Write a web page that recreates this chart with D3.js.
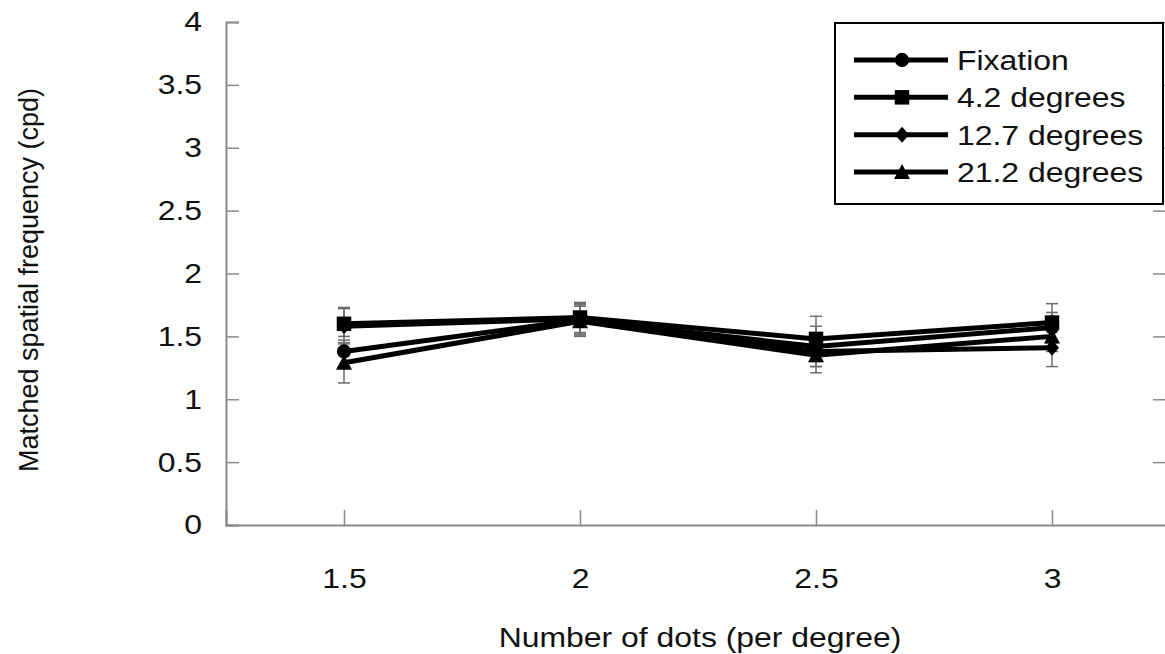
<!DOCTYPE html>
<html>
<head>
<meta charset="utf-8">
<script src="https://cdn.jsdelivr.net/npm/d3@7"></script>
<style>
  body { margin: 0; background: #fff; }
  text { font-family: Arial, "Liberation Sans", sans-serif; }
</style>
</head>
<body>
<script>
// chart values
var dotsPerDegree = [1.5, 2, 2.5, 3];
var seriesNames = ["Fixation", "4.2 degrees", "12.7 degrees", "21.2 degrees"];
var markerTypes = ["circle", "square", "diamond", "triangle"];

var fixation  = [1.38, 1.63, 1.42, 1.57];
var deg4_2    = [1.60, 1.65, 1.48, 1.61];
var deg12_7   = [1.58, 1.64, 1.38, 1.41];
var deg21_2   = [1.29, 1.62, 1.35, 1.50];

var errFixation = [0.12, 0.12, 0.16, 0.12];
var errDeg4_2   = [0.13, 0.12, 0.18, 0.15];
var errDeg12_7  = [0.14, 0.12, 0.12, 0.15];
var errDeg21_2  = [0.16, 0.12, 0.14, 0.12];

var yTicks = [0, 0.5, 1, 1.5, 2, 2.5, 3, 3.5, 4];
var xTicks = [1.5, 2, 2.5, 3];

var width = 1165,
    height = 654;

var svg = d3.select("body").append("svg")
    .attr("width", width)
    .attr("height", height);

var x = d3.scaleLinear()
    .domain([1.25, 3.25])
    .range([226, 1170]);

var y = d3.scaleLinear()
    .domain([0, 4])
    .range([525, 22]);

var series = [fixation, deg4_2, deg12_7, deg21_2].map(function(vals, i) {
  var errs = [errFixation, errDeg4_2, errDeg12_7, errDeg21_2][i];
  return {
    name: seriesNames[i],
    marker: markerTypes[i],
    points: vals.map(function(v, j) { return { x: dotsPerDegree[j], y: v, e: errs[j] }; })
  };
});

var axisColor = "#8a8a8a";
var fontSize = "28px";
var stretchX = 1.14;   // the reference text is a bit wide

// widen horizontal text around its own x position
function stretch(sel) {
  sel.each(function() {
    var t = d3.select(this);
    var tx = +t.attr("x") || 0;
    t.attr("transform", "translate(" + tx + ",0) scale(" + stretchX + ",1) translate(" + (-tx) + ",0)");
  });
}

// left axis
var yAxis = svg.append("g")
    .attr("transform", "translate(" + x(1.25) + ",0)")
    .call(d3.axisLeft(y).tickValues(yTicks).tickSize(-13).tickPadding(24)
      .tickFormat(function(d) { return d; }));

// right ticks (inward)
var yAxisR = svg.append("g")
    .attr("transform", "translate(1166,0)")
    .call(d3.axisRight(y).tickValues(yTicks.slice(1)).tickSize(-13).tickFormat(""));
yAxisR.select(".domain").remove();

// bottom axis
var xAxis = svg.append("g")
    .attr("transform", "translate(0," + y(0) + ")")
    .call(d3.axisBottom(x).tickValues(xTicks).tickSize(-15).tickPadding(43)
      .tickFormat(function(d) { return d; }));

[yAxis, yAxisR, xAxis].forEach(function(g) {
  g.selectAll(".domain").attr("stroke", axisColor).attr("stroke-width", 2);
  g.selectAll(".tick line").attr("stroke", axisColor).attr("stroke-width", 1.5);
  g.selectAll(".tick text")
    .attr("fill", "#111")
    .style("font-size", fontSize)
    .call(stretch);
});

// error bars
var errColor = "#6e6e6e";
series.forEach(function(s) {
  var g = svg.append("g");
  s.points.forEach(function(p) {
    var cx = x(p.x), top = y(p.y + p.e), bot = y(p.y - p.e);
    g.append("line").attr("x1", cx).attr("x2", cx).attr("y1", top).attr("y2", bot)
      .attr("stroke", errColor).attr("stroke-width", 1.5);
    [top, bot].forEach(function(yy) {
      g.append("line").attr("x1", cx - 6).attr("x2", cx + 6).attr("y1", yy).attr("y2", yy)
        .attr("stroke", errColor).attr("stroke-width", 1.5);
    });
  });
});

var line = d3.line()
    .x(function(d) { return x(d.x); })
    .y(function(d) { return y(d.y); });

function markerPath(type) {
  if (type === "circle") return d3.symbol(d3.symbolCircle, 160)();
  if (type === "square") return d3.symbol(d3.symbolSquare, 210)();
  if (type === "diamond") return "M0,-8L7,0L0,8L-7,0Z";
  return "M0,-8L8,7L-8,7Z";
}

// lines + markers
series.forEach(function(s) {
  svg.append("path")
    .datum(s.points)
    .attr("fill", "none")
    .attr("stroke", "#000")
    .attr("stroke-width", 5)
    .attr("d", line);
});
series.forEach(function(s) {
  svg.append("g")
    .selectAll("path")
    .data(s.points)
    .enter().append("path")
    .attr("transform", function(d) { return "translate(" + x(d.x) + "," + y(d.y) + ")"; })
    .attr("d", markerPath(s.marker))
    .attr("fill", "#000");
});

// axis titles
svg.append("text")
    .attr("x", 700)
    .attr("y", 647)
    .attr("text-anchor", "middle")
    .style("font-size", fontSize)
    .attr("fill", "#111")
    .text("Number of dots (per degree)")
    .call(stretch);

svg.append("text")
    .attr("transform", "translate(38,280) rotate(-90)")
    .attr("text-anchor", "middle")
    .style("font-size", "27px")
    .attr("fill", "#111")
    .text("Matched spatial frequency (cpd)");

// legend
var legend = svg.append("g");
legend.append("rect")
    .attr("x", 835).attr("y", 23)
    .attr("width", 328).attr("height", 181)
    .attr("fill", "#fff")
    .attr("stroke", "#000")
    .attr("stroke-width", 2);

var legendY = d3.scalePoint()
    .domain(seriesNames)
    .range([60, 172]);

series.forEach(function(s) {
  var ly = legendY(s.name);
  legend.append("line")
    .attr("x1", 854).attr("x2", 948).attr("y1", ly).attr("y2", ly)
    .attr("stroke", "#000").attr("stroke-width", 5);
  legend.append("path")
    .attr("transform", "translate(902," + ly + ")")
    .attr("d", markerPath(s.marker))
    .attr("fill", "#000");
  legend.append("text")
    .attr("x", 957).attr("y", ly + 10)
    .style("font-size", fontSize)
    .attr("fill", "#111")
    .text(s.name)
    .call(stretch);
});
</script>
</body>
</html>
